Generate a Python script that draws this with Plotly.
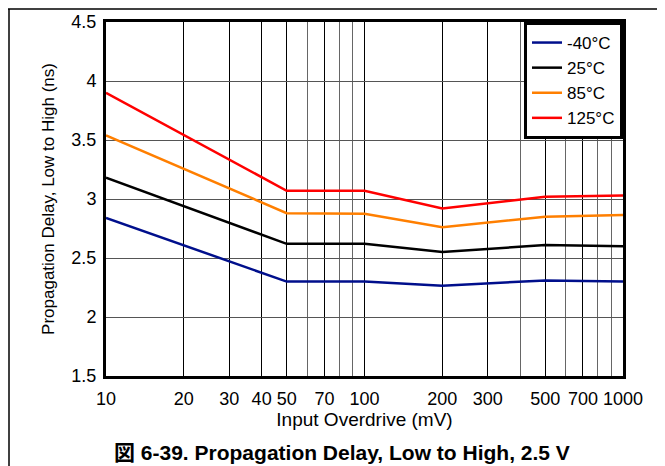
import plotly.graph_objects as go

# Input overdrive (mV) and propagation delay (ns) per temperature
overdrive = [10, 50, 100, 200, 500, 1000]
delay_m40 = [2.84, 2.30, 2.30, 2.265, 2.31, 2.30]
delay_25 = [3.18, 2.62, 2.62, 2.55, 2.61, 2.60]
delay_85 = [3.54, 2.88, 2.875, 2.76, 2.85, 2.865]
delay_125 = [3.90, 3.07, 3.07, 2.92, 3.02, 3.03]

series = [
    ("-40°C", delay_m40, "#000f8c"),
    ("25°C", delay_25, "#000000"),
    ("85°C", delay_85, "#ff7f00"),
    ("125°C", delay_125, "#ff0000"),
]

x_ticks = [10, 20, 30, 40, 50, 70, 100, 200, 300, 500, 700, 1000]
x_minor = [60, 80, 90, 400, 600, 800, 900]
y_ticks = [1.5, 2, 2.5, 3, 3.5, 4, 4.5]

# page body has an 8px margin, so the figure is sized to fit
W, H = 657, 458
L, T, PW, PH = 98, 14, 517, 354
R, B = W - L - PW, H - T - PH

def px_x(x):
    return (x - L) / PW

def px_y(y):
    return 1 - (y - T) / PH

fig = go.Figure()
for name, vals, color in series:
    fig.add_trace(go.Scatter(x=overdrive, y=vals, name=name, mode="lines",
                             line=dict(color=color, width=2.5)))

font = "Liberation Sans, Arial, sans-serif"
fig.update_layout(
    width=W, height=H,
    margin=dict(l=L, r=R, t=T, b=B, autoexpand=False),
    paper_bgcolor="white", plot_bgcolor="white",
    font=dict(family=font, size=18, color="black"),
    legend=dict(x=1, y=1, xanchor="right", yanchor="top",
                bgcolor="white", bordercolor="black", borderwidth=3,
                font=dict(size=17), tracegroupgap=0, itemwidth=30),
)
fig.update_xaxes(
    type="log", range=[1, 3], automargin=False,
    tickvals=x_ticks, ticktext=[str(v) for v in x_ticks],
    showgrid=True, gridcolor="black", gridwidth=1,
    minor=dict(tickvals=x_minor, showgrid=True, gridcolor="#666666", gridwidth=1, ticks=""),
    showline=True, linecolor="black", linewidth=3, mirror=True,
    ticks="", tickfont=dict(size=18), ticklabelstandoff=4,
    title=dict(text="Input Overdrive (mV)", font=dict(size=19), standoff=0),
)
fig.update_yaxes(
    range=[1.5, 4.5], tickvals=y_ticks, automargin=False,
    ticktext=["1.5", "2", "2.5", "3", "3.5", "4", "4.5"],
    showgrid=True, gridcolor="#555555", gridwidth=1,
    showline=True, linecolor="black", linewidth=3, mirror=True,
    ticks="", tickfont=dict(size=18), ticklabelstandoff=3,
    title=dict(text="Propagation Delay, Low to High (ns)", font=dict(size=17), standoff=13),
    zeroline=False,
)

# caption and outer frame
fig.add_annotation(text="<b>図 6-39. Propagation Delay, Low to High, 2.5 V</b>",
                   xref="paper", yref="paper", x=px_x(334), y=px_y(444),
                   xanchor="center", yanchor="middle", showarrow=False,
                   font=dict(size=21, family="Liberation Sans, Noto Sans CJK JP, sans-serif"))
fig.add_shape(type="line", xref="paper", yref="paper",
              x0=px_x(0), x1=px_x(W), y0=px_y(1), y1=px_y(1),
              line=dict(color="black", width=1.5), layer="above")
fig.add_shape(type="line", xref="paper", yref="paper",
              x0=px_x(1), x1=px_x(1), y0=px_y(1), y1=px_y(H),
              line=dict(color="black", width=1.5), layer="above")

fig.write_html("out.html")
